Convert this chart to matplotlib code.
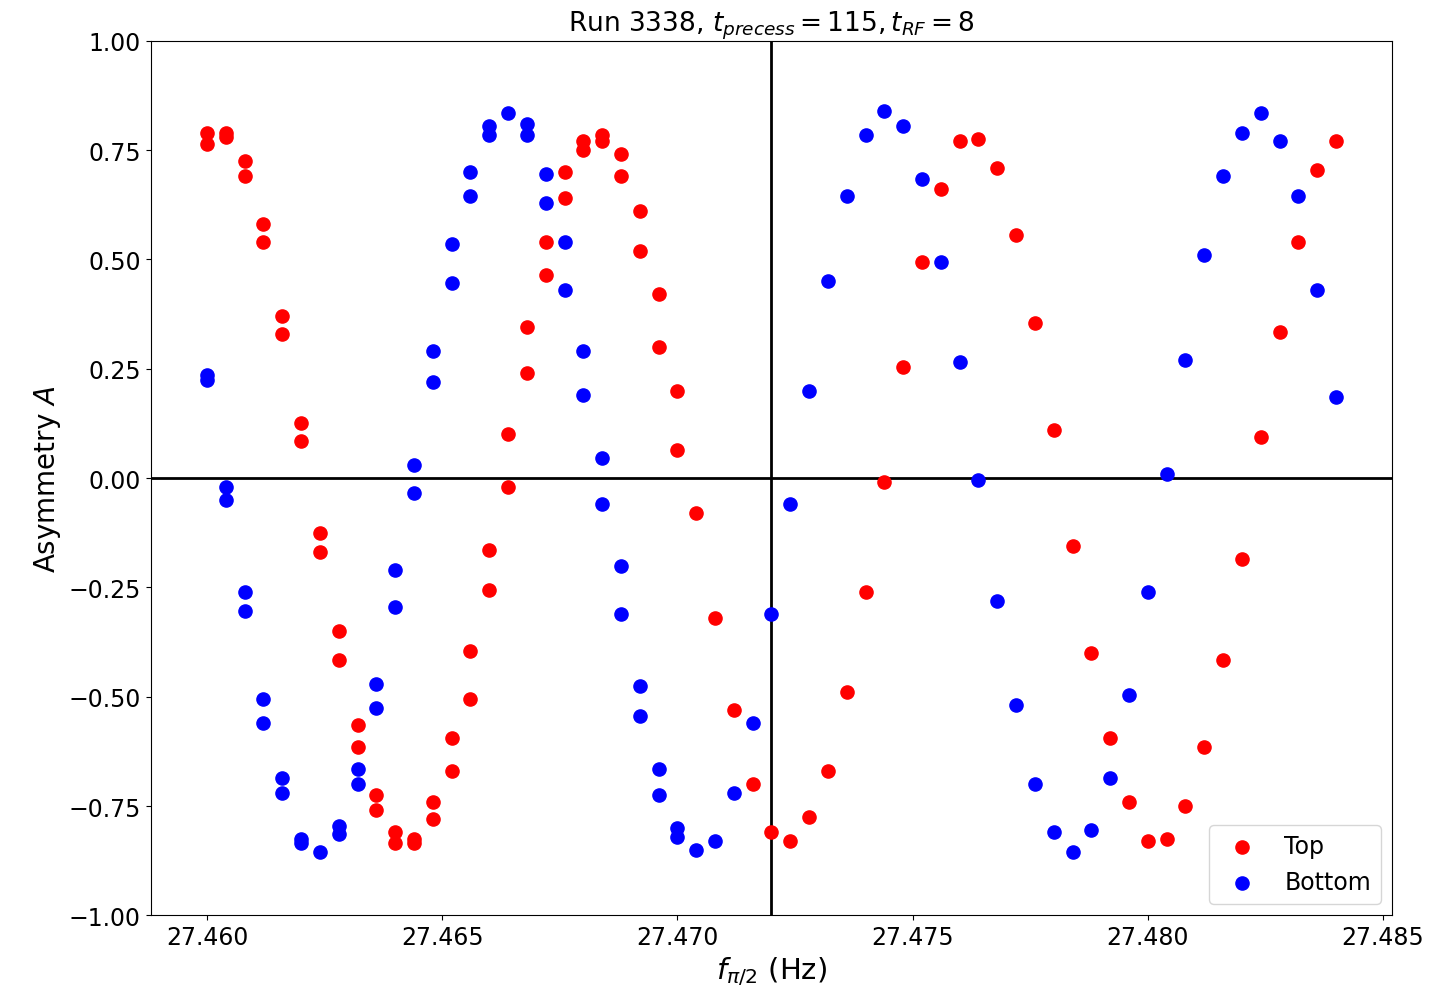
import matplotlib.pyplot as plt

# frequency (Hz) and asymmetry readings for the two detectors
top_freq = [27.4600, 27.4600, 27.4604, 27.4604, 27.4608, 27.4608, 27.4612, 27.4612,
            27.4616, 27.4616, 27.4620, 27.4620, 27.4624, 27.4624, 27.4628, 27.4628,
            27.4632, 27.4632, 27.4636, 27.4636, 27.4640, 27.4640, 27.4644, 27.4644,
            27.4648, 27.4648, 27.4652, 27.4652, 27.4656, 27.4656, 27.4660, 27.4660,
            27.4664, 27.4664, 27.4668, 27.4668, 27.4672, 27.4672, 27.4676, 27.4676,
            27.4680, 27.4680, 27.4684, 27.4684, 27.4688, 27.4688, 27.4692, 27.4692,
            27.4696, 27.4696, 27.4700, 27.4700,
            27.4704, 27.4708, 27.4712, 27.4716, 27.4720, 27.4724, 27.4728, 27.4732,
            27.4736, 27.4740, 27.4744, 27.4748, 27.4752, 27.4756, 27.4760, 27.4764,
            27.4768, 27.4772, 27.4776, 27.4780, 27.4784, 27.4788, 27.4792, 27.4796,
            27.4800, 27.4804, 27.4808, 27.4812, 27.4816, 27.4820, 27.4824, 27.4828,
            27.4832, 27.4836, 27.4840]
top_asym = [0.79, 0.765, 0.79, 0.78, 0.725, 0.69, 0.58, 0.54,
            0.37, 0.33, 0.125, 0.085, -0.125, -0.17, -0.35, -0.415,
            -0.565, -0.615, -0.725, -0.76, -0.81, -0.835, -0.825, -0.835,
            -0.74, -0.78, -0.595, -0.67, -0.395, -0.505, -0.165, -0.255,
            0.10, -0.02, 0.345, 0.24, 0.54, 0.465, 0.70, 0.64,
            0.77, 0.75, 0.785, 0.77, 0.74, 0.69, 0.61, 0.52,
            0.42, 0.30, 0.20, 0.065,
            -0.08, -0.32, -0.53, -0.70, -0.81, -0.83, -0.775, -0.67,
            -0.49, -0.26, -0.01, 0.255, 0.495, 0.66, 0.77, 0.775,
            0.71, 0.555, 0.355, 0.11, -0.155, -0.40, -0.595, -0.74,
            -0.83, -0.825, -0.75, -0.615, -0.415, -0.185, 0.095, 0.335,
            0.54, 0.705, 0.77]

bottom_freq = [27.4600, 27.4600, 27.4604, 27.4604, 27.4608, 27.4608, 27.4612, 27.4612,
               27.4616, 27.4616, 27.4620, 27.4620, 27.4624, 27.4628, 27.4628,
               27.4632, 27.4632, 27.4636, 27.4636, 27.4640, 27.4640, 27.4644, 27.4644,
               27.4648, 27.4648, 27.4652, 27.4652, 27.4656, 27.4656, 27.4660, 27.4660,
               27.4664, 27.4668, 27.4668, 27.4672, 27.4672, 27.4676, 27.4676,
               27.4680, 27.4680, 27.4684, 27.4684, 27.4688, 27.4688, 27.4692, 27.4692,
               27.4696, 27.4696, 27.4700, 27.4700,
               27.4704, 27.4708, 27.4712, 27.4716, 27.4720, 27.4724, 27.4728, 27.4732,
               27.4736, 27.4740, 27.4744, 27.4748, 27.4752, 27.4756, 27.4760, 27.4764,
               27.4768, 27.4772, 27.4776, 27.4780, 27.4784, 27.4788, 27.4792, 27.4796,
               27.4800, 27.4804, 27.4808, 27.4812, 27.4816, 27.4820, 27.4824, 27.4828,
               27.4832, 27.4836, 27.4840]
bottom_asym = [0.235, 0.225, -0.02, -0.05, -0.26, -0.305, -0.505, -0.56,
               -0.685, -0.72, -0.825, -0.835, -0.855, -0.795, -0.815,
               -0.665, -0.70, -0.47, -0.525, -0.21, -0.295, 0.03, -0.035,
               0.29, 0.22, 0.535, 0.445, 0.70, 0.645, 0.805, 0.785,
               0.835, 0.81, 0.785, 0.695, 0.63, 0.54, 0.43,
               0.29, 0.19, 0.045, -0.06, -0.20, -0.31, -0.475, -0.545,
               -0.665, -0.725, -0.80, -0.82,
               -0.85, -0.83, -0.72, -0.56, -0.31, -0.06, 0.20, 0.45,
               0.645, 0.785, 0.84, 0.805, 0.685, 0.495, 0.265, -0.005,
               -0.28, -0.52, -0.70, -0.81, -0.855, -0.805, -0.685, -0.495,
               -0.26, 0.01, 0.27, 0.51, 0.69, 0.79, 0.835, 0.77,
               0.645, 0.43, 0.185]

f_center = 27.472

fig, ax = plt.subplots(figsize=(14.34, 9.95), dpi=100)
ax.scatter(top_freq, top_asym, color="red", s=90, label="Top", zorder=3)
ax.scatter(bottom_freq, bottom_asym, color="blue", s=90, label="Bottom", zorder=3)
ax.axhline(0, color="black", lw=2)
ax.axvline(f_center, color="black", lw=2)
ax.set_ylim(-1, 1)
ax.set_xlabel(r"$f_{\pi/2}$ (Hz)", fontsize=21)
ax.set_ylabel(r"Asymmetry $A$", fontsize=20)
ax.set_title(r"Run 3338, $t_{precess} = 115, t_{RF} = 8$", fontsize=19)
ax.tick_params(labelsize=17)
ax.legend(loc="lower right", fontsize=17)
fig.subplots_adjust(left=0.105, right=0.971, top=0.958, bottom=0.079)
fig.savefig("out.png")
